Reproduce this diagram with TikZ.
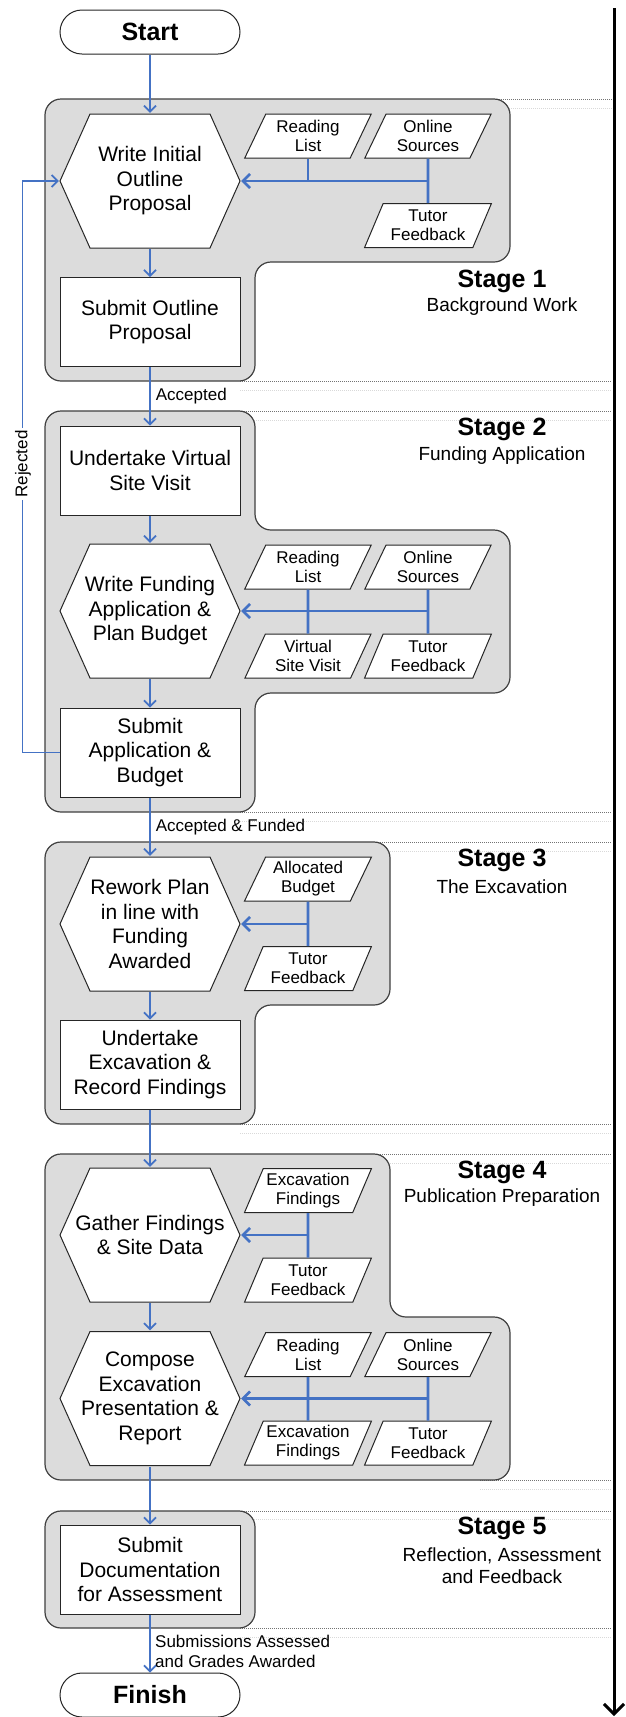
\documentclass[tikz,border=0pt]{standalone}
\usepackage{fontspec}
\setmainfont{Liberation Sans}
\usetikzlibrary{arrows.meta,shapes.geometric}
\definecolor{flow}{RGB}{68,114,196}
\definecolor{stagefill}{RGB}{220,220,220}
\definecolor{stageline}{RGB}{64,64,64}
\begin{document}
\begin{tikzpicture}[x=1pt,y=-1pt,
  stagebox/.style={fill=stagefill,draw=stageline,line width=1.2pt,rounded corners=16pt},
  guide/.style={draw=black!55,line width=0.5pt,dash pattern=on 1pt off 1pt},
  guidelight/.style={draw=black!15,line width=0.5pt,dash pattern=on 1pt off 1pt},
  proc/.style={draw=black!85,fill=white,line width=1pt,minimum width=180pt,minimum height=89pt,inner sep=0pt,align=center,font=\fontsize{21}{24.5}\selectfont},
  term/.style={draw=black!85,fill=white,line width=1pt,minimum width=180pt,minimum height=44pt,inner sep=0pt,rounded corners=22pt,font=\fontsize{25}{28}\selectfont\bfseries},
  hexa/.style={minimum width=182pt,minimum height=136pt,inner sep=0pt,align=center,font=\fontsize{21}{24.5}\selectfont,
    path picture={\draw[draw=black!85,fill=white,line width=1pt]
      ([xshift=1pt]path picture bounding box.west)
      -- ([xshift=31pt,yshift=-1pt]path picture bounding box.north west)
      -- ([xshift=-31pt,yshift=-1pt]path picture bounding box.north east)
      -- ([xshift=-1pt]path picture bounding box.east)
      -- ([xshift=-31pt,yshift=1pt]path picture bounding box.south east)
      -- ([xshift=31pt,yshift=1pt]path picture bounding box.south west) -- cycle;}},
  para/.style={trapezium,trapezium left angle=63.4,trapezium right angle=116.6,trapezium stretches=true,
    minimum width=127pt,minimum height=44pt,inner sep=0pt,draw=black!85,fill=white,line width=1pt,
    align=center,font=\fontsize{17}{19}\selectfont},
  flowline/.style={draw=flow,line width=1.7pt},
  flowarrow/.style={draw=flow,line width=1.7pt,-{Straight Barb[length=6pt,width=12pt]}},
  feedline/.style={draw=flow,line width=2.6pt},
  feedarrow/.style={draw=flow,line width=2.6pt,-{Straight Barb[length=7pt,width=14pt]}},
  lbl/.style={font=\fontsize{17}{20}\selectfont,inner sep=0pt,align=left},
  stagetitle/.style={font=\fontsize{25}{28}\selectfont\bfseries,inner sep=0pt},
  stagesub/.style={font=\fontsize{19}{22}\selectfont,inner sep=0pt,align=center}
]
\useasboundingbox[fill=white] (0,0) rectangle (626,1717);

% guide lines
\foreach \ya/\yb/\xs in {99/108/495,381/390/240,411/420/240,812/821/240,842/851/360,1124/1133/240,1154/1163/360,1480/1489/480,1511/1519/240,1628/1637/240}{
  \draw[guide] (\xs,\ya) -- (612,\ya);
  \draw[guidelight] (\xs,\yb) -- (612,\yb);
}

% stage boxes
\draw[stagebox] (45,99) -- (510,99) -- (510,262) -- (255,262) -- (255,381) -- (45,381) -- cycle;
\draw[stagebox] (45,411) -- (255,411) -- (255,530) -- (510,530) -- (510,693) -- (255,693) -- (255,812) -- (45,812) -- cycle;
\draw[stagebox] (45,842) -- (390,842) -- (390,1005) -- (255,1005) -- (255,1124) -- (45,1124) -- cycle;
\draw[stagebox] (45,1154) -- (390,1154) -- (390,1317) -- (510,1317) -- (510,1480) -- (45,1480) -- cycle;
\draw[stagebox] (45,1511) -- (255,1511) -- (255,1628) -- (45,1628) -- cycle;

% axis
\coordinate (axtop) at (614,8);
\coordinate (axbot) at (614,1716);
\draw[line width=3pt,-{Straight Barb[length=10pt,width=20pt]}] (axtop) -- (axbot);

% stage labels
\node[stagetitle] (st1) at (502,281) {Stage 1};
\node[stagesub] (ss1) at (502,307) {Background Work};
\node[stagetitle] (st2) at (502,429) {Stage 2};
\node[stagesub] (ss2) at (502,456) {Funding Application};
\node[stagetitle] (st3) at (502,860) {Stage 3};
\node[stagesub] (ss3) at (502,887) {The Excavation};
\node[stagetitle] (st4) at (502,1172) {Stage 4};
\node[stagesub] (ss4) at (502,1198) {Publication Preparation};
\node[stagetitle] (st5) at (502,1528) {Stage 5};
\node[stagesub] (ss5) at (502,1566) {Reflection, Assessment\\and Feedback};

% main flow nodes
\node[term] (start) at (150,32) {Start};
\node[hexa] (h1) at (150,181) {Write Initial\\Outline\\Proposal};
\node[proc] (p1) at (150,322) {Submit Outline\\Proposal};
\node[proc] (p2) at (150,470.5) {Undertake Virtual\\Site Visit};
\node[hexa] (h2) at (150,611) {Write Funding\\Application \&\\Plan Budget};
\node[proc] (p3) at (150,752.5) {Submit\\Application \&\\Budget};
\node[hexa] (h3) at (150,924) {Rework Plan\\in line with\\Funding\\Awarded};
\node[proc] (p4) at (150,1064.5) {Undertake\\Excavation \&\\Record Findings};
\node[hexa] (h4) at (150,1235) {Gather Findings\\\& Site Data};
\node[hexa] (h5) at (150,1398.5) {Compose\\Excavation\\Presentation \&\\Report};
\node[proc] (p5) at (150,1569.5) {Submit\\Documentation\\for Assessment};
\node[term] (finish) at (150,1695) {Finish};

% inputs stage 1
\node[para] (rl1) at (308,136) {Reading\\List};
\node[para] (os1) at (428,136) {Online\\Sources};
\node[para] (tf1) at (428,225.5) {Tutor\\Feedback};
% inputs stage 2
\node[para] (rl2) at (308,567) {Reading\\List};
\node[para] (os2) at (428,567) {Online\\Sources};
\node[para] (vs2) at (308,656) {Virtual\\Site Visit};
\node[para] (tf2) at (428,656) {Tutor\\Feedback};
% inputs stage 3
\node[para] (ab3) at (308,879) {Allocated\\Budget};
\node[para] (tf3) at (308,968.5) {Tutor\\Feedback};
% inputs stage 4
\node[para] (ef4) at (308,1190.5) {Excavation\\Findings};
\node[para] (tf4) at (308,1280) {Tutor\\Feedback};
\node[para] (rl5) at (308,1354.5) {Reading\\List};
\node[para] (os5) at (428,1354.5) {Online\\Sources};
\node[para] (ef5) at (308,1443) {Excavation\\Findings};
\node[para] (tf5) at (428,1443) {Tutor\\Feedback};

% main flow connectors
\draw[flowarrow] (start) -- (h1);
\draw[flowarrow] (h1) -- (p1);
\draw[flowarrow] (p1) -- node[lbl,anchor=west,xshift=5pt,pos=0.5] (l1) {Accepted} (p2);
\draw[flowarrow] (p2) -- (h2);
\draw[flowarrow] (h2) -- (p3);
\draw[flowarrow] (p3) -- node[lbl,anchor=west,xshift=5pt,pos=0.5] (l2) {Accepted \& Funded} (h3);
\draw[flowarrow] (h3) -- (p4);
\draw[flowarrow] (p4) -- (h4);
\draw[flowarrow] (h4) -- (h5);
\draw[flowarrow] (h5) -- (p5);
\draw[flowarrow] (p5) -- (finish);
\node[lbl,anchor=west] (l3) at (155,1651) {Submissions Assessed\\and Grades Awarded};

% rejected loop
\draw[flowarrow] (p3.west) -- ++(-37,0) |- (h1.west);
\node[lbl,rotate=90,fill=white,inner sep=2pt] (rej) at (23,464) {Rejected};

% input connectors stage 1
\draw[feedline] (rl1.south) -- (rl1.south |- h1.east);
\draw[feedline] (os1.south) -- (tf1.north);
\draw[feedarrow] (os1.south |- h1.east) -- (h1.east);
% stage 2
\draw[feedline] (rl2.south) -- (vs2.north);
\draw[feedline] (os2.south) -- (tf2.north);
\draw[feedarrow] (os2.south |- h2.east) -- (h2.east);
% stage 3
\draw[feedline] (ab3.south) -- (tf3.north);
\draw[feedarrow] (ab3.south |- h3.east) -- (h3.east);
% stage 4
\draw[feedline] (ef4.south) -- (tf4.north);
\draw[feedarrow] (ef4.south |- h4.east) -- (h4.east);
\draw[feedline] (rl5.south) -- (ef5.north);
\draw[feedline] (os5.south) -- (tf5.north);
\draw[feedarrow] (os5.south |- h5.east) -- (h5.east);
\end{tikzpicture}
\end{document}
